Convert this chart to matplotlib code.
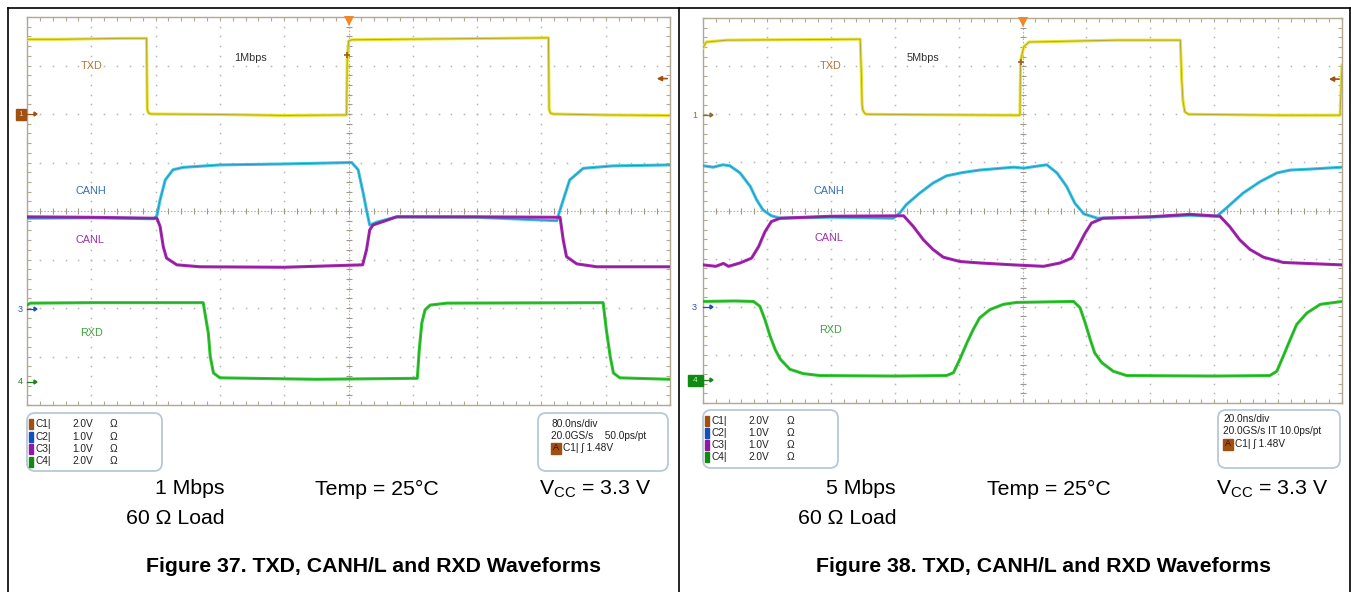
import numpy as np
import matplotlib
matplotlib.use("Agg")
import matplotlib.pyplot as plt
from matplotlib.lines import Line2D
from matplotlib.patches import FancyBboxPatch, Rectangle, Polygon
from matplotlib.ticker import MultipleLocator
from matplotlib.transforms import Affine2D

W, H = 1351, 592

# ---------------- data (time in divisions, level in divisions from top) -------------
# Figure 37 : 1 Mbps
txd_l_t = [0, 0.5, 1.0, 1.5, 1.86, 1.87, 1.89, 1.93, 3.0, 4.0, 4.97, 4.98, 5.0, 5.05, 6.5, 8.11, 8.12, 8.14, 8.18, 9.0, 10]
txd_l_v = [0.46, 0.46, 0.45, 0.44, 0.44, 1.90, 1.98, 2.00, 2.01, 2.03, 2.02, 0.90, 0.50, 0.47, 0.45, 0.43, 1.90, 1.98, 2.00, 2.02, 2.03]

canh_l_t = [0, 1.0, 1.97, 2.02, 2.07, 2.15, 2.27, 2.43, 3.0, 4.0, 5.05, 5.15, 5.23, 5.28, 5.33, 5.44, 5.75, 7.0, 8.24, 8.29, 8.34, 8.44, 8.65, 9.11, 10]
canh_l_v = [4.15, 4.14, 4.16, 4.10, 3.77, 3.36, 3.15, 3.10, 3.05, 3.03, 3.00, 3.15, 3.64, 3.98, 4.29, 4.23, 4.12, 4.13, 4.20, 3.98, 3.77, 3.36, 3.12, 3.07, 3.05]

canl_l_t = [0, 1.0, 2.02, 2.07, 2.12, 2.17, 2.33, 2.69, 4.0, 5.22, 5.28, 5.33, 5.38, 5.75, 7.0, 8.29, 8.34, 8.39, 8.55, 8.86, 10]
canl_l_v = [4.12, 4.13, 4.15, 4.32, 4.74, 4.97, 5.11, 5.15, 5.16, 5.11, 4.80, 4.39, 4.29, 4.12, 4.12, 4.13, 4.60, 4.94, 5.09, 5.15, 5.15]

rxd_l_t = [0, 0.05, 1.0, 2.74, 2.82, 2.85, 2.90, 3.0, 4.5, 6.07, 6.10, 6.14, 6.19, 6.27, 6.53, 8.96, 9.01, 9.07, 9.12, 9.22, 10]
rxd_l_v = [5.94, 5.90, 5.89, 5.89, 6.52, 7.00, 7.34, 7.44, 7.47, 7.45, 6.87, 6.31, 6.04, 5.94, 5.90, 5.89, 6.45, 7.00, 7.34, 7.44, 7.47]

# Figure 38 : 5 Mbps
txd_r_t = [0, 0.05, 0.37, 1.5, 2.46, 2.48, 2.49, 2.50, 2.53, 2.56, 3.5, 4.96, 4.97, 5.02, 5.10, 6.5, 7.47, 7.49, 7.51, 7.54, 7.6, 9.0, 9.97, 10.0]
txd_r_v = [0.62, 0.50, 0.46, 0.45, 0.44, 1.22, 1.80, 1.91, 1.98, 2.00, 2.01, 2.02, 0.88, 0.60, 0.50, 0.46, 0.46, 1.22, 1.71, 1.95, 2.00, 2.02, 2.02, 0.98]

canh_r_t = [0, 0.16, 0.31, 0.42, 0.58, 0.74, 0.84, 0.94, 1.07, 1.21, 2.0, 2.98, 3.08, 3.18, 3.39, 3.60, 3.81, 4.07, 4.33, 4.86, 5.02, 5.17, 5.38, 5.54, 5.69, 5.82, 5.96, 6.17, 7.0, 7.62, 8.04, 8.19, 8.45, 8.72, 8.98, 9.19, 9.5, 10]
canh_r_v = [3.07, 3.10, 3.05, 3.07, 3.22, 3.50, 3.78, 3.99, 4.11, 4.16, 4.14, 4.16, 4.05, 3.88, 3.64, 3.43, 3.28, 3.21, 3.16, 3.10, 3.12, 3.09, 3.05, 3.22, 3.50, 3.85, 4.07, 4.16, 4.14, 4.10, 4.12, 3.95, 3.64, 3.40, 3.22, 3.16, 3.14, 3.10]

canl_r_t = [0, 0.2, 0.32, 0.4, 0.58, 0.76, 0.87, 0.97, 1.07, 1.21, 2.0, 3.14, 3.29, 3.45, 3.60, 3.76, 4.02, 4.33, 4.86, 5.33, 5.59, 5.77, 5.87, 5.98, 6.08, 6.26, 7.0, 7.62, 8.09, 8.24, 8.40, 8.56, 8.77, 9.08, 10]
canl_r_v = [5.13, 5.16, 5.10, 5.16, 5.09, 4.99, 4.75, 4.44, 4.23, 4.16, 4.12, 4.11, 4.33, 4.61, 4.81, 4.97, 5.06, 5.09, 5.13, 5.16, 5.09, 4.99, 4.75, 4.47, 4.26, 4.16, 4.13, 4.08, 4.12, 4.33, 4.61, 4.81, 4.97, 5.08, 5.13]

rxd_r_t = [0, 0.5, 0.79, 0.89, 0.97, 1.05, 1.13, 1.21, 1.36, 1.57, 1.83, 3.0, 3.81, 3.92, 4.02, 4.13, 4.23, 4.33, 4.49, 4.70, 4.91, 5.8, 5.90, 5.98, 6.06, 6.13, 6.24, 6.42, 6.63, 8.0, 8.87, 8.98, 9.08, 9.19, 9.29, 9.45, 9.66, 10]
rxd_r_v = [5.89, 5.88, 5.89, 5.99, 6.27, 6.61, 6.89, 7.09, 7.30, 7.39, 7.43, 7.44, 7.43, 7.37, 7.09, 6.75, 6.47, 6.23, 6.06, 5.95, 5.91, 5.89, 6.02, 6.33, 6.68, 6.96, 7.16, 7.34, 7.43, 7.44, 7.43, 7.34, 7.03, 6.68, 6.37, 6.13, 5.95, 5.89]

trace_labels = ["TXD", "CANH", "CANL", "RXD"]
rate_labels = ["1Mbps", "5Mbps"]
channels = ["C1|", "C2|", "C3|", "C4|"]
ch_scales = ["2.0V", "1.0V", "1.0V", "2.0V"]
timebase = [["80.0ns/div", "20.0GS/s    50.0ps/pt", "C1| \u0283 1.48V"],
            ["20.0ns/div", "20.0GS/s IT 10.0ps/pt", "C1| \u0283 1.48V"]]
cond_rate = ["1 Mbps", "5 Mbps"]
cond_temp = "Temp = 25\u00b0C"
cond_vcc = r"V$_{\mathregular{CC}}$ = 3.3 V"
cond_load = "60 \u03a9 Load"
captions = ["Figure 37. TXD, CANH/L and RXD Waveforms",
            "Figure 38. TXD, CANH/L and RXD Waveforms"]

# ---------------- style ----------------
NARROW = ["Liberation Sans Narrow", "Liberation Sans", "DejaVu Sans"]
SANS = ["Liberation Sans", "DejaVu Sans"]
GRID_EDGE = "#b0a890"
DOT = "#b4b4b4"
C_TXD = ("#8c7a22", "#e8e230")
C_CANH = ("#2a60b0", "#38c8e0")
C_CANL = ("#70107a", "#a828b4")
C_RXD = ("#1e8a1e", "#30c830")
LBL_COL = ["#b07838", "#3a70b0", "#a030a8", "#40a040"]
CH_COL = ["#a05010", "#1050c0", "#9018a8", "#108a10"]

fig = plt.figure(figsize=(W / 100, H / 100), dpi=100)
fig.patch.set_facecolor("white")
PX = Affine2D().scale(1, -1).translate(0, H)  # pixel coords, origin top-left


def fline(xs, ys, **kw):
    fig.add_artist(Line2D(xs, ys, transform=PX, **kw))


def make_screen(x0, y0, x1, y1):
    ax = fig.add_axes([x0 / W, 1 - y1 / H, (x1 - x0) / W, (y1 - y0) / H])
    ax.set_xlim(0, 10)
    ax.set_ylim(8, 0)
    ax.set_facecolor("white")
    for s in ax.spines.values():
        s.set_color(GRID_EDGE)
        s.set_linewidth(1.0)
    for axis in (ax.xaxis, ax.yaxis):
        axis.set_major_locator(MultipleLocator(1))
        axis.set_minor_locator(MultipleLocator(0.2))
    ax.tick_params(which="both", direction="in", length=3, width=0.8, color=GRID_EDGE,
                   top=True, right=True, labelbottom=False, labelleft=False)
    px = np.arange(0.2, 10, 0.2)
    py = np.arange(0.2, 8, 0.2)
    for yv in [1, 2, 3, 5, 6, 7]:
        ax.plot(px, np.full_like(px, yv), ls="none", marker="s", ms=1.1, mew=0, color=DOT)
    for xv in [1, 2, 3, 4, 6, 7, 8, 9]:
        ax.plot(np.full_like(py, xv), py, ls="none", marker="s", ms=1.1, mew=0, color=DOT)
    ax.axhline(4, color=DOT, lw=0.8, ls=(0, (1.5, 1.5)))
    ax.axvline(5, color=DOT, lw=0.8, ls=(0, (1.5, 1.5)))
    ax.plot(px, np.full_like(px, 4), ls="none", marker="|", ms=5, mew=0.8, color="#a09888")
    ax.plot(np.full_like(py, 5), py, ls="none", marker="_", ms=5, mew=0.8, color="#a09888")
    return ax


def trace(ax, t, v, cols):
    ax.plot(t, v, color=cols[1], lw=2.2, solid_joinstyle="round", zorder=4)
    ax.plot(t, v, color=cols[0], lw=0.7, alpha=0.55, solid_joinstyle="round", zorder=5)


panels = [
    dict(box=(27, 17, 670, 405), data=[(txd_l_t, txd_l_v, C_TXD), (canh_l_t, canh_l_v, C_CANH),
                                       (canl_l_t, canl_l_v, C_CANL), (rxd_l_t, rxd_l_v, C_RXD)],
         lbl_pos=[(1.0, 1.01), (1.0, 3.59), (0.98, 4.6), (1.0, 6.52)], rate_pos=(3.47, 0.85)),
    dict(box=(703, 18, 1342, 403), data=[(txd_r_t, txd_r_v, C_TXD), (canh_r_t, canh_r_v, C_CANH),
                                         (canl_r_t, canl_r_v, C_CANL), (rxd_r_t, rxd_r_v, C_RXD)],
         lbl_pos=[(2.0, 0.99), (1.97, 3.59), (1.97, 4.58), (2.0, 6.49)], rate_pos=(3.44, 0.83)),
]

for i, p in enumerate(panels):
    ax = make_screen(*p["box"])
    for t, v, c in p["data"]:
        trace(ax, t, v, c)
    for lbl, (lx, ly), col in zip(trace_labels, p["lbl_pos"], LBL_COL):
        ax.text(lx, ly, lbl, color=col, fontsize=7.8, family=NARROW, ha="center", va="center", zorder=6)
    ax.text(p["rate_pos"][0], p["rate_pos"][1], rate_labels[i], color="#303030", fontsize=7.8,
            family=NARROW, ha="center", va="center", zorder=6)
    # trigger position triangle
    ax.plot([5], [0.09], marker="v", ms=7, color="#f08828", mew=0, zorder=7, clip_on=False)
    # trigger marker on centre line
    ax.plot([5 - 0.02], [0.78 if i == 0 else 0.92], marker="+", ms=5, mew=1.2, color="#a06020", zorder=7)
    # trigger level arrow
    ax.annotate("", xy=(9.75, 1.27), xytext=(10.0, 1.27),
                arrowprops=dict(arrowstyle="-|>", color="#a05010", lw=1.2, mutation_scale=7))

# channel markers (left of screens)
fig.add_artist(Rectangle((16, 109), 10, 11, transform=PX, color="#a05010"))
fig.text(21, 114.5, "1", transform=PX, color="#f0c080", fontsize=6, ha="center", va="center", family=SANS)
fig.text(20, 309, "3", transform=PX, color="#2050b0", fontsize=6.5, ha="center", va="center", family=SANS)
fig.text(20, 382, "4", transform=PX, color="#208020", fontsize=6.5, ha="center", va="center", family=SANS)
fig.text(695, 115, "1", transform=PX, color="#907020", fontsize=6.5, ha="center", va="center", family=SANS)
fig.text(694, 307, "3", transform=PX, color="#2050b0", fontsize=6.5, ha="center", va="center", family=SANS)
fig.add_artist(Rectangle((688, 375), 15, 11, transform=PX, color="#108a10"))
fig.text(695.5, 380.5, "4", transform=PX, color="#c0f0c0", fontsize=6, ha="center", va="center", family=SANS)
for (x0, y, col) in [(27, 114, "#a05010"), (27, 309, "#2050b0"), (27, 382, "#208020"),
                     (703, 115, "#907020"), (703, 307, "#2050b0"), (703, 380, "#208020")]:
    fline([x0, x0 + 8], [y, y], color=col, lw=0.9)
    fig.add_artist(Polygon([[x0 + 10, y], [x0 + 7, y - 2], [x0 + 7, y + 2]], closed=True,
                           transform=PX, color=col))

# info boxes
info = [
    dict(chbox=(27, 413, 135, 58), tbbox=(538, 413, 130, 58), rows=[424, 436.5, 449, 461.5],
         chx=(29, 35, 72, 110), tbx=551, tby=[424, 436, 448]),
    dict(chbox=(703, 410, 135, 58), tbbox=(1218, 410, 122, 58), rows=[421, 433, 445, 457],
         chx=(705, 711, 748, 787), tbx=1223, tby=[419, 431, 444]),
]
for i, b in enumerate(info):
    for (bx, by, bw, bh) in (b["chbox"], b["tbbox"]):
        fig.add_artist(FancyBboxPatch((bx + 4, by + 4), bw - 8, bh - 8,
                                      boxstyle="round,pad=4,rounding_size=8", transform=PX,
                                      fc="white", ec="#b8c8d8", lw=1.3))
    sx, cx, vx, ox = b["chx"]
    for ch, sc, col, ry in zip(channels, ch_scales, CH_COL, b["rows"]):
        fig.add_artist(Rectangle((sx, ry - 5), 4, 10, transform=PX, color=col))
        fig.text(cx, ry, ch, transform=PX, fontsize=7.3, family=SANS, ha="left", va="center", color="#202020")
        fig.text(vx, ry, sc, transform=PX, fontsize=7.3, family=SANS, ha="left", va="center", color="#202020")
        fig.text(ox, ry, "\u03a9", transform=PX, fontsize=7.3, family=SANS, ha="left", va="center", color="#202020")
    tx = b["tbx"]
    fig.text(tx, b["tby"][0], timebase[i][0], transform=PX, fontsize=7.3, family=SANS, va="center", color="#202020")
    fig.text(tx, b["tby"][1], timebase[i][1], transform=PX, fontsize=7.3, family=SANS, va="center", color="#202020")
    fig.add_artist(Rectangle((tx, b["tby"][2] - 5.5), 10, 11, transform=PX, color="#a05010"))
    fig.text(tx + 5, b["tby"][2], "A", transform=PX, fontsize=6.5, family=SANS, ha="center", va="center", color="#301000")
    fig.text(tx + 12, b["tby"][2], timebase[i][2], transform=PX, fontsize=7.3, family=SANS, va="center", color="#202020")

# conditions and captions
cond = [dict(rate=190, temp=377, vcc=595, load=175, cap=374),
        dict(rate=861, temp=1049, vcc=1272, load=847, cap=1043)]
for i, c in enumerate(cond):
    fig.text(c["rate"], 489, cond_rate[i], transform=PX, fontsize=15.3, family=SANS, ha="center", va="center")
    fig.text(c["temp"], 489, cond_temp, transform=PX, fontsize=15.3, family=SANS, ha="center", va="center")
    fig.text(c["vcc"], 489, cond_vcc, transform=PX, fontsize=15.3, family=SANS, ha="center", va="center")
    fig.text(c["load"], 518, cond_load, transform=PX, fontsize=15.3, family=SANS, ha="center", va="center")
    fig.text(c["cap"], 566, captions[i], transform=PX, fontsize=15.3, family=SANS, weight="bold",
             ha="center", va="center")

# outer frame
fline([8, W], [8, 8], color="black", lw=1.2)
fline([8, 8], [8, H], color="black", lw=1.2)
fline([679, 679], [8, H], color="black", lw=1.2)
fline([W - 1, W - 1], [8, H], color="black", lw=1.2)

fig.savefig("out.png", dpi=100)
